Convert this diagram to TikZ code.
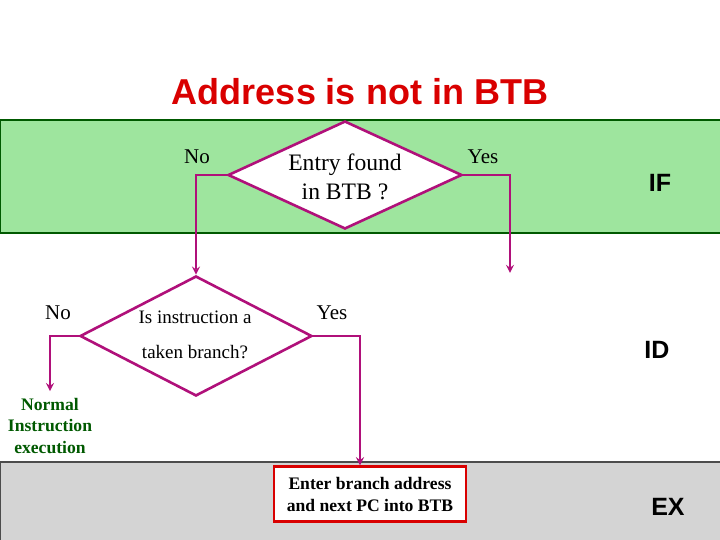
\documentclass[tikz,border=0pt]{standalone}
\usepackage{fontspec}
\setmainfont{Liberation Serif}
\setsansfont{Liberation Sans}
\usetikzlibrary{shapes.geometric, arrows, positioning}
\definecolor{bandgreen}{HTML}{9EE59E}
\definecolor{linemag}{HTML}{B0107A}
\begin{document}
\begin{tikzpicture}[x=0.5pt, y=-0.5pt,
  band/.style={line width=1.2pt},
  decision/.style={diamond, draw=linemag, line width=1.3pt, fill=white, inner sep=0pt},
  process/.style={rectangle, draw=red!85!black, line width=1.2pt, fill=white, font=\bfseries\fontsize{8.8}{11}\selectfont, align=center, minimum width=96pt, minimum height=27.5pt, inner sep=1pt},
  lbl/.style={font=\fontsize{10.5}{12}\selectfont},
  stage/.style={font=\sffamily\bfseries\fontsize{12.5}{14}\selectfont},
  arrow/.style={linemag, line width=0.8pt, ->, >=stealth}]

  \useasboundingbox (0,0) rectangle (720,540);
  % Bands
  \filldraw [band, fill=bandgreen, draw=green!35!black] (0,120) rectangle (722,233);
  \filldraw [band, fill=black!17, draw=black!70] (0,462) rectangle (722,542);
  \node (title) [font=\sffamily\bfseries\fontsize{18}{20}\selectfont, text=red!85!black] at (360,92) {Address is not in BTB};

  % Nodes
  \node (entry) [decision, minimum width=117pt, minimum height=54pt] at (345,175) {};
  \node [font=\fontsize{11.8}{14.5}\selectfont, align=center] at (345,177) {Entry found\\in BTB ?};
  \node (taken) [decision, minimum width=116pt, minimum height=60pt] at (196,336) {};
  \node [font=\fontsize{9.5}{10}\selectfont] at (195,317) {Is instruction a};
  \node [font=\fontsize{9.5}{10}\selectfont] at (195,352) {taken branch?};
  \node (enter) [process] at (370,494) {Enter branch address\\and next PC into BTB};
  \node (normal) [font=\bfseries\fontsize{8.8}{10.8}\selectfont, text=green!35!black, align=center] at (50,426) {Normal\\Instruction\\execution};
  \coordinate (fetch) at (510,273);

  \node [lbl] at (197,157) {No};
  \node [lbl] at (483,157) {Yes};
  \node [lbl] at (58,313) {No};
  \node [lbl] at (332,313) {Yes};
  \node [stage] at (660,183) {IF};
  \node [stage] at (657,350) {ID};
  \node [stage] at (668,507) {EX};

  % Arrows
  \draw [arrow] (entry.west) -| (taken.north);
  \draw [arrow] (entry.east) -| (fetch);
  \draw [arrow] (taken.west) -| (normal.north);
  \draw [arrow] (taken.east) -| (enter.north -| 360,0);

\end{tikzpicture}
\end{document}
